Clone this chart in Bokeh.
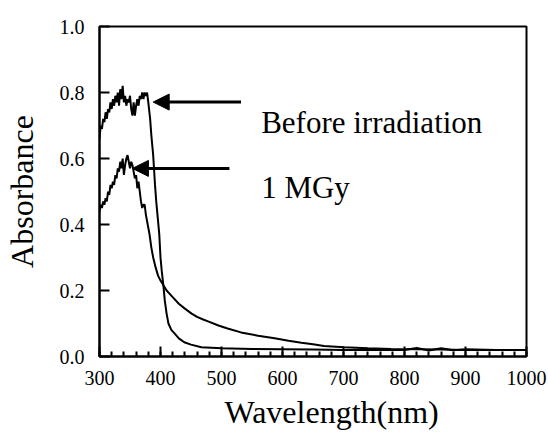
from bokeh.plotting import figure
from bokeh.models import FixedTicker, Range1d, Arrow, NormalHead, Label, Title, CustomJSTickFormatter
from bokeh.embed import file_html
from bokeh.resources import INLINE

# Data
wl_before = [300, 302, 304, 306, 308, 310, 312, 314, 316, 318, 320, 322, 324, 326, 328,
             330, 332, 334, 336, 338, 340, 342, 344, 346, 348, 350, 352, 354, 356, 358,
             360, 362, 364, 366, 368, 370, 372, 374, 376, 378, 380, 383, 385, 388, 391,
             393, 396, 398, 400, 402, 405, 407, 410, 413, 418, 423, 430, 439, 450, 467,
             500, 550, 600, 650, 700, 750, 800, 820, 840, 860, 880, 900, 950, 1000]
abs_before = [0.66, 0.70, 0.69, 0.72, 0.71, 0.74, 0.72, 0.75, 0.74, 0.77, 0.75, 0.78, 0.76, 0.79, 0.77,
              0.80, 0.76, 0.81, 0.78, 0.82, 0.77, 0.79, 0.76, 0.78, 0.77, 0.79, 0.75, 0.73, 0.77, 0.73,
              0.76, 0.78, 0.76, 0.79, 0.78, 0.80, 0.78, 0.80, 0.79, 0.80, 0.77, 0.72, 0.67, 0.61, 0.52,
              0.47, 0.41, 0.37, 0.30, 0.26, 0.21, 0.17, 0.13, 0.10, 0.08, 0.07, 0.055, 0.043, 0.036, 0.028,
              0.025, 0.023, 0.022, 0.021, 0.020, 0.020, 0.020, 0.026, 0.018, 0.025, 0.019, 0.022, 0.020, 0.020]

wl_mgy = [300, 302, 304, 306, 308, 310, 312, 314, 316, 318, 320, 322, 324, 326, 328,
          330, 332, 334, 336, 338, 340, 342, 344, 346, 348, 350, 352, 354, 356, 358,
          360, 362, 364, 366, 368, 370, 372, 374, 376, 378, 380, 382, 385, 388, 392,
          396, 400, 405, 410, 420, 430, 440, 451, 460, 470, 480, 495, 510, 532, 560,
          587, 610, 631, 650, 668, 701, 740, 778, 820, 860, 900, 950, 1000]
abs_mgy = [0.44, 0.46, 0.45, 0.47, 0.46, 0.48, 0.47, 0.50, 0.49, 0.52, 0.51, 0.53, 0.52, 0.55, 0.54,
           0.57, 0.56, 0.59, 0.57, 0.60, 0.55, 0.58, 0.60, 0.61, 0.59, 0.57, 0.59, 0.58, 0.56, 0.54,
           0.55, 0.51, 0.53, 0.50, 0.47, 0.45, 0.46, 0.46, 0.43, 0.41, 0.39, 0.37, 0.33, 0.30, 0.27,
           0.245, 0.23, 0.215, 0.20, 0.18, 0.16, 0.145, 0.13, 0.12, 0.112, 0.105, 0.094, 0.085, 0.073, 0.063,
           0.055, 0.048, 0.042, 0.037, 0.032, 0.028, 0.025, 0.023, 0.022, 0.021, 0.020, 0.020, 0.020]

x_ticks = [300, 400, 500, 600, 700, 800, 900, 1000]
x_minor = list(range(300, 1001, 20))
y_ticks = [0.0, 0.2, 0.4, 0.6, 0.8, 1.0]

# annotations: (text, x, y) and arrows (x_tail, x_head, y)
label_texts = ["Before irradiation", "1 MGy"]
label_x = [565, 565]
label_y = [0.709, 0.512]
arrow_tail_x = [532, 513]
arrow_head_x = [388, 354]
arrow_y = [0.771, 0.570]
x_title = "Wavelength(nm)"

FONT = "'Liberation Serif', 'Times New Roman', serif"

p = figure(width=548, height=434, output_backend="svg", toolbar_location=None,
           x_range=Range1d(300, 1000), y_range=Range1d(0, 1),
           min_border_left=98, min_border_right=22, min_border_top=26, min_border_bottom=78)

p.line(wl_before, abs_before, line_color="black", line_width=2)
p.line(wl_mgy, abs_mgy, line_color="black", line_width=2)

for xt, xh, yy in zip(arrow_tail_x, arrow_head_x, arrow_y):
    p.add_layout(Arrow(end=NormalHead(size=16, fill_color="black", line_color="black"),
                       x_start=xt, y_start=yy, x_end=xh, y_end=yy,
                       line_color="black", line_width=3))

for t, xx, yy in zip(label_texts, label_x, label_y):
    p.add_layout(Label(x=xx, y=yy, text=t, text_font=FONT, text_font_size="31px",
                       text_color="black", text_baseline="alphabetic", text_align="left"))

p.grid.visible = False
p.outline_line_color = "black"
p.outline_line_width = 2

xa = p.xaxis[0]
xa.ticker = FixedTicker(ticks=x_ticks, minor_ticks=x_minor)
ya = p.yaxis[0]
ya.ticker = FixedTicker(ticks=y_ticks, minor_ticks=[])
ya.formatter = CustomJSTickFormatter(code="return tick.toFixed(1);")
ya.axis_label = "Absorbance"

for ax in (xa, ya):
    ax.axis_line_width = 2
    ax.axis_line_color = "black"
    ax.major_tick_in = 10
    ax.major_tick_out = 0
    ax.major_tick_line_width = 2
    ax.minor_tick_in = 5
    ax.minor_tick_out = 0
    ax.minor_tick_line_width = 2
    ax.major_label_text_font = FONT
    ax.major_label_text_font_size = "20px"
    ax.major_label_text_color = "black"
    ax.axis_label_text_font = FONT
    ax.axis_label_text_font_size = "32px"
    ax.axis_label_text_font_style = "normal"
    ax.axis_label_text_color = "black"

xa.major_label_standoff = 14
ya.major_label_standoff = 15
ya.axis_label_standoff = 17

p.add_layout(Title(text=x_title, align="left", offset=125, standoff=8,
                   text_font=FONT, text_font_size="32px", text_font_style="normal",
                   text_color="black"), "below")

open("out.html", "w").write(file_html(p, INLINE))
